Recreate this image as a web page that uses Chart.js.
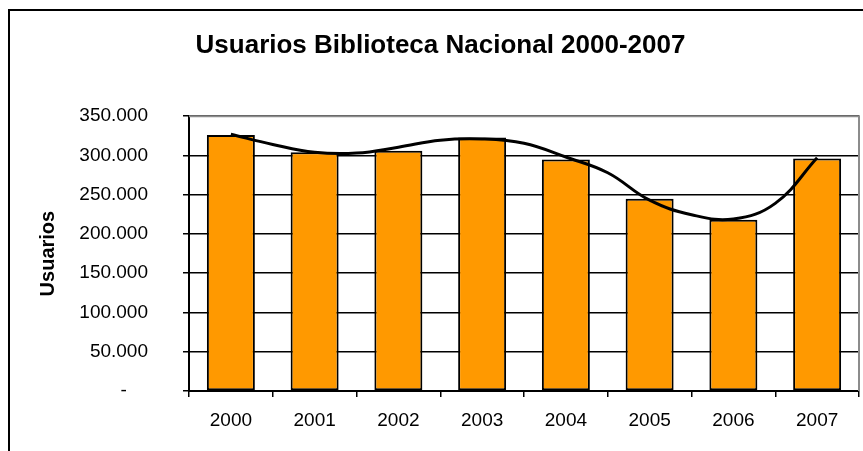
<!DOCTYPE html>
<html>
<head>
<meta charset="utf-8">
<script src="https://cdn.jsdelivr.net/npm/chart.js@4"></script>
<style>
  body { margin: 0; background: #fff; }
  #frame { position: absolute; left: 8px; top: 9px; width: 1000px; height: 600px;
           border-left: 2px solid #000; border-top: 2px solid #000; }
  #wrap { position: absolute; left: 0; top: 0; width: 863px; height: 451px; }
</style>
</head>
<body>
<div id="frame"></div>
<div id="wrap"><canvas id="myChart" width="863" height="451"></canvas></div>
<script>
// data
const years = ["2000", "2001", "2002", "2003", "2004", "2005", "2006", "2007"];
const usuarios = [326000, 304000, 306000, 323000, 295000, 245000, 218000, 296000];
// trend line, every half year
const trendX = [0, 0.5, 1, 1.5, 2, 2.5, 3, 3.5, 4, 4.5, 5, 5.5, 6, 6.5, 7];
const trendY = [327000, 314000, 304000, 303000, 310500, 319500, 321000, 315500,
                298000, 278000, 243000, 224500, 219000, 239000, 297000];
const yTicks = [0, 50000, 100000, 150000, 200000, 250000, 300000, 350000];

function fmt(v) {
  if (v === 0) return "-    ";
  return v.toString().replace(/\B(?=(\d{3})+(?!\d))/g, ".");
}

// gray plot area border (top + right)
const plotBorder = {
  id: "plotBorder",
  afterDraw(chart) {
    const a = chart.chartArea;
    const c = chart.ctx;
    c.save();
    c.strokeStyle = "#8c8c8c";
    c.lineWidth = 2;
    c.beginPath();
    c.moveTo(a.left, a.top);
    c.lineTo(a.right, a.top);
    c.lineTo(a.right, a.bottom);
    c.stroke();
    c.restore();
  },
};

Chart.defaults.font.family = "'Liberation Sans', Arial, sans-serif";
Chart.defaults.color = "#000";

var ctx = document.getElementById("myChart").getContext("2d");
var myChart = new Chart(ctx, {
  type: "bar",
  data: {
    labels: years,
    datasets: [
      {
        type: "line",
        label: "Tendencia",
        data: trendX.map((x, i) => ({ x: x, y: trendY[i] })),
        xAxisID: "xt",
        borderColor: "#000",
        borderWidth: 3,
        pointRadius: 0,
        tension: 0.4,
        fill: false,
        order: 0,
      },
      {
        label: "Usuarios",
        data: usuarios,
        xAxisID: "x",
        backgroundColor: "#FF9900",
        borderColor: "#000",
        borderWidth: 2,
        borderSkipped: false,
        grouped: false,
        categoryPercentage: 1,
        barPercentage: 0.573,
        order: 1,
      },
    ],
  },
  options: {
    responsive: false,
    animation: false,
    layout: { padding: { left: 22, right: 4, top: 0, bottom: 0 } },
    plugins: {
      legend: { display: false },
      tooltip: { enabled: false },
      title: {
        display: true,
        text: "Usuarios Biblioteca Nacional 2000-2007",
        font: { size: 26, weight: "bold" },
        color: "#000",
        padding: { top: 30, bottom: 55 },
      },
    },
    scales: {
      x: {
        type: "category",
        offset: true,
        grid: {
          offset: true,
          drawOnChartArea: false,
          drawTicks: true,
          tickLength: 6,
          color: "#000",
          lineWidth: 1.5,
        },
        border: { display: true, color: "#000", width: 2 },
        ticks: { font: { size: 19 }, padding: 12, color: "#000" },
        afterFit: (s) => { s.height = 60; },
      },
      xt: {
        type: "linear",
        display: false,
        offset: false,
        grid: { offset: false },
        min: -0.5,
        max: 7.5,
      },
      y: {
        min: 0,
        max: 350000,
        afterBuildTicks: (s) => { s.ticks = yTicks.map((v) => ({ value: v })); },
        grid: { color: "#000", lineWidth: 1.5, tickLength: 6 },
        border: { display: true, color: "#000", width: 2 },
        ticks: { font: { size: 19 }, padding: 35, color: "#000", callback: fmt },
        title: {
          display: true,
          text: "Usuarios",
          font: { size: 20, weight: "bold" },
          color: "#000",
          padding: { top: 14, bottom: 0 },
        },
        afterFit: (s) => { s.width = 167; },
      },
    },
  },
  plugins: [plotBorder],
});
</script>
</body>
</html>
